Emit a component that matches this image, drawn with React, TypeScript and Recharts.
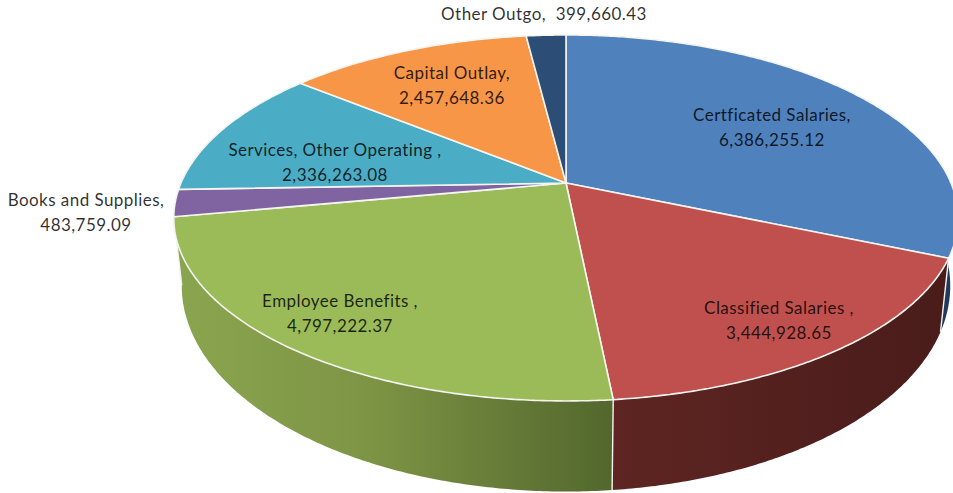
import { PieChart, Pie } from 'recharts';

const categories = [
  'Certficated Salaries,',
  'Classified Salaries ,',
  'Employee Benefits ,',
  'Books and Supplies,',
  'Services, Other Operating ,',
  'Capital Outlay,',
  'Other Outgo,',
];
const amounts = [6386255.12, 3444928.65, 4797222.37, 483759.09, 2336263.08, 2457648.36, 399660.43];
const topColors = ['#4f81bd', '#c0504d', '#9bbb59', '#8064a2', '#4bacc6', '#f79646', '#2c4d75'];
const wallColors = ['#1f3a5c', 'url(#wallRed)', 'url(#wallGreen)', 'url(#wallGreen)', '#2d6777', '#94592a', '#1a2e46'];

// label centres in chart pixels: [x, y of first line]
const labelSpots = [
  [772, 121],
  [779, 314],
  [340, 307],
  [86, 206],
  [335, 156],
  [452, 79],
  [544, 20],
];
const LINE_HEIGHT = 25;

const rows = categories.map((name, i) => ({
  name,
  value: amounts[i],
  fill: topColors[i],
  wall: wallColors[i],
}));

// camera model for the tilted disc and its floor
const TILT = 0.458;
const PERSPECTIVE = 0.191;
const FLOOR_TILT = 0.4937;
const FLOOR_DROP = 0.1706;
const FLOOR_FAR = 0.02;

type Pt = [number, number];

function project(cx: number, cy: number, r: number, deg: number, floor: boolean): Pt {
  const a = (deg * Math.PI) / 180;
  const X = Math.cos(a);
  const Y = -Math.sin(a);
  const w = 1 - PERSPECTIVE * Y + (floor ? FLOOR_FAR : 0);
  const v = floor ? FLOOR_TILT * Y + FLOOR_DROP : TILT * Y;
  return [cx + (r * X) / w, cy + (r * v) / w];
}

function arcPoints(p: any, floor: boolean): Pt[] {
  const steps = Math.max(2, Math.ceil(Math.abs(p.endAngle - p.startAngle) * 2));
  const pts: Pt[] = [];
  for (let i = 0; i <= steps; i++) {
    const deg = p.startAngle + ((p.endAngle - p.startAngle) * i) / steps;
    pts.push(project(p.cx, p.cy, p.outerRadius, deg, floor));
  }
  return pts;
}

const toPath = (pts: Pt[]) =>
  pts.map((q, i) => `${i ? 'L' : 'M'}${q[0].toFixed(1)} ${q[1].toFixed(1)}`).join(' ') + ' Z';

function TopSlice(props: any) {
  const d = toPath([[props.cx, props.cy], ...arcPoints(props, false)]);
  return <path d={d} fill={props.fill} stroke="#f4f4f0" strokeWidth={1.6} strokeLinejoin="round" />;
}

function WallSlice(props: any) {
  const top = arcPoints(props, false);
  const floor = arcPoints(props, true);
  const wall = props.payload?.wall ?? props.wall;
  return (
    <g>
      <path d={toPath([...top, ...[...floor].reverse()])} fill={wall} stroke="none" />
      <line
        x1={top[0][0]}
        y1={top[0][1]}
        x2={floor[0][0]}
        y2={floor[0][1]}
        stroke="#f4f4f0"
        strokeWidth={1.4}
      />
    </g>
  );
}

function SliceLabel(props: any) {
  const { index, value, name } = props;
  const [x, y] = labelSpots[index];
  const amount = value.toLocaleString('en-US', { minimumFractionDigits: 2 });
  const common = {
    textAnchor: 'middle' as const,
    fill: '#000',
    fillOpacity: 0.82,
    fontFamily: 'Lato',
    fontSize: 17,
    letterSpacing: 0.45,
    style: { fontVariantLigatures: 'none', whiteSpace: 'pre' as const },
  };
  if (index === categories.length - 1) {
    return (
      <text x={x} y={y} {...common}>
        {`${name}  ${amount}`}
      </text>
    );
  }
  return (
    <text {...common}>
      <tspan x={x} y={y}>{name}</tspan>
      <tspan x={x} y={y + LINE_HEIGHT}>{amount}</tspan>
    </text>
  );
}

export default function App() {
  return (
    <div style={{ position: 'absolute', left: 0, top: 0 }}>
      <PieChart width={953} height={493} margin={{ top: 0, right: 0, bottom: 0, left: 0 }}>
        <defs>
          <linearGradient id="wallGreen" gradientUnits="userSpaceOnUse" x1="175" y1="0" x2="612" y2="0">
            <stop offset="0" stopColor="#8aa54f" />
            <stop offset="0.45" stopColor="#7d9445" />
            <stop offset="1" stopColor="#53672d" />
          </linearGradient>
          <linearGradient id="wallRed" gradientUnits="userSpaceOnUse" x1="612" y1="0" x2="945" y2="0">
            <stop offset="0" stopColor="#5e2522" />
            <stop offset="1" stopColor="#491c1a" />
          </linearGradient>
        </defs>
        <Pie
          data={rows}
          dataKey="value"
          cx={566}
          cy={183}
          outerRadius={385}
          startAngle={90}
          endAngle={-270}
          shape={WallSlice}
          inactiveShape={WallSlice}
          isAnimationActive={false}
        />
        <Pie
          data={rows}
          dataKey="value"
          cx={566}
          cy={183}
          outerRadius={385}
          startAngle={90}
          endAngle={-270}
          shape={TopSlice}
          inactiveShape={TopSlice}
          label={SliceLabel}
          labelLine={false}
          isAnimationActive={false}
        />
      </PieChart>
    </div>
  );
}
